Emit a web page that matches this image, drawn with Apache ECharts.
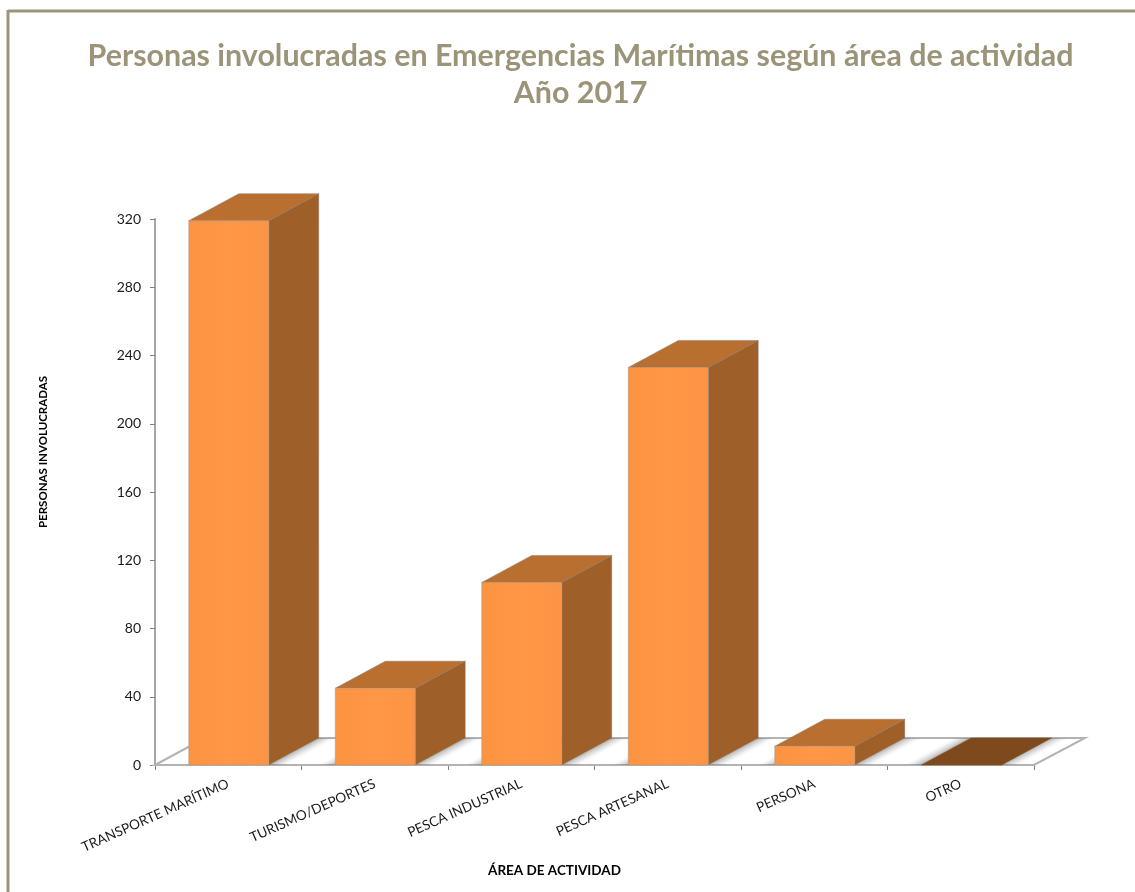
<!DOCTYPE html>
<html><head><meta charset="utf-8">
<style>html,body{margin:0;padding:0;background:#fff}#c{width:1135px;height:892px}</style>
<script src="https://cdn.jsdelivr.net/npm/echarts@6/dist/echarts.min.js"></script>
</head><body><div id="c"></div>
<script>
const categories = ['TRANSPORTE MARÍTIMO','TURISMO/DEPORTES','PESCA INDUSTRIAL','PESCA ARTESANAL','PERSONA','OTRO'];
const personas = [319, 45, 107, 233, 11, 0];
const yTicks = {min:0, max:320, interval:40};
const chartTitle = 'Personas involucradas en Emergencias Marítimas según área de actividad\nAño 2017';
const xName = 'ÁREA DE ACTIVIDAD';
const yName = 'PERSONAS INVOLUCRADAS';

const DX = 50, DY = -27, BAR_RATIO = 0.546;
const poly = (points, style, z2) => ({type:'polygon', shape:{points}, style, z2});

// soft shadow on the floor, built from thin sheared strips; dir -1 = to the left of x, +1 = to the right
function floorShade(x, b, dir){
  const out = [], n = 9, step = 2;
  for(let i=0;i<n;i++){
    const a = 0.5*Math.pow(1-i/n,1.6);
    const s0 = x+dir*i*step, s1 = x+dir*(i+1)*step;
    out.push(poly([[s0,b],[s1,b],[s1+DX,b+DY],[s0+DX,b+DY]],{fill:'rgba(110,110,110,'+a.toFixed(3)+')'},1));
  }
  return out;
}
function renderBar(params, api){
  const idx = api.value(0), val = api.value(1);
  const p0 = api.coord([idx, 0]), p1 = api.coord([idx, val]);
  const w = api.size([1,0])[0] * BAR_RATIO;
  const l = p0[0]-w/2+0.5, r = p0[0]+w/2+0.5, b = p0[1], t = p1[1];
  const children = [];
  if(idx>0) children.push(...floorShade(l,b,-1));
  children.push(...floorShade(r,b,1));
  const zero = val === 0;
  children.push(poly([[r,b],[r+DX,b+DY],[r+DX,t+DY],[r,t]],{fill:'#9E5F29',stroke:'rgba(130,120,110,0.4)',lineWidth:1},2));
  children.push(poly([[l,t],[r,t],[r+DX,t+DY],[l+DX,t+DY]],{fill:zero?'#7E4A1D':'#B86F2F',stroke:zero?'rgba(126,74,29,0.6)':'rgba(130,120,110,0.45)',lineWidth:1},3));
  if(!zero){
    children.push({type:'rect',shape:{x:l,y:t,width:r-l,height:b-t},style:{
      fill:new echarts.graphic.LinearGradient(0,0,1,0,[{offset:0,color:'#FC9340'},{offset:0.5,color:'#FF9747'},{offset:1,color:'#FB9444'}]),
      stroke:'rgba(170,150,130,0.5)',lineWidth:1},z2:4});
  }
  return {type:'group',children};
}
function renderFloor(params, api){
  const c = params.coordSys, x0=c.x, x1=c.x+c.width, y=c.y+c.height;
  return {type:'group',children:[
    poly([[x0,y],[x0+DX,y+DY],[x1+DX+1,y+DY],[x1,y]],{fill:'#fff',stroke:'#B3B3B3',lineWidth:2})
  ]};
}

const chart = echarts.init(document.getElementById('c'),null,{renderer:'canvas'});
const lineCol = '#9C9479';
chart.setOption({
  animation:false,
  backgroundColor:'#fff',
  title:{text:chartTitle,left:575.5,top:33,textAlign:'center',
    textStyle:{fontFamily:'Lato',fontWeight:'bold',fontSize:30.4,lineHeight:37,color:lineCol}},
  grid:{left:155,top:219,width:879,height:546,containLabel:false},
  xAxis:{type:'category',data:categories,
    axisLine:{lineStyle:{color:'#A6A6A6',width:2}},
    axisTick:{show:true,length:5,alignWithLabel:false,lineStyle:{color:'#808080',width:1}},
    axisLabel:{rotate:24,margin:18,interval:0,fontFamily:'Lato',fontSize:13.6,color:'#1a1a1a'},
    name:xName,nameLocation:'middle',nameGap:99,
    nameTextStyle:{fontFamily:'Lato',fontWeight:'bold',fontSize:13.5,color:'#000',padding:[0,80,0,0]}},
  yAxis:{type:'value',min:yTicks.min,max:yTicks.max,interval:yTicks.interval,
    axisLine:{show:true,lineStyle:{color:'#A6A6A6',width:2}},
    axisTick:{show:true,length:5,lineStyle:{color:'#808080',width:1}},
    splitLine:{show:false},
    axisLabel:{margin:14,fontFamily:'Lato',fontSize:14,color:'#1a1a1a'},
    name:yName,nameLocation:'middle',nameGap:106,nameRotate:90,
    nameTextStyle:{fontFamily:'Lato',fontWeight:'bold',fontSize:11.5,color:'#000',padding:[0,0,0,80]}},
  series:[
    {type:'custom',name:'piso',renderItem:renderFloor,data:[[0,0]],encode:{x:0,y:1},z:1,silent:true,clip:false},
    {type:'custom',name:'Personas involucradas',renderItem:renderBar,
     data:personas.map((v,i)=>[i,v]),encode:{x:0,y:1},z:3,clip:false}
  ],
  graphic:[
    {type:'line',shape:{x1:8,y1:11,x2:1135,y2:11},style:{stroke:lineCol,lineWidth:3}},
    {type:'line',shape:{x1:8,y1:10,x2:8,y2:892},style:{stroke:lineCol,lineWidth:3}}
  ]
});
</script></body></html>
